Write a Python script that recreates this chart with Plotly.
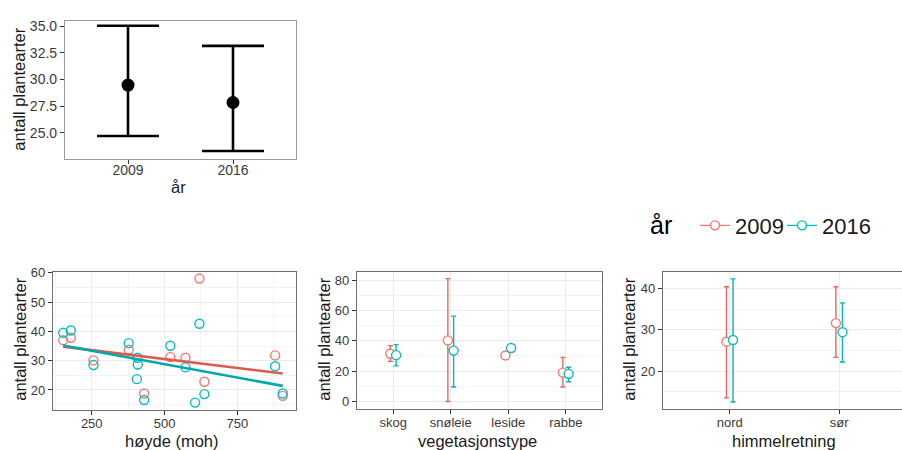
import plotly.graph_objects as go

RED = "#F8766D"
TEAL = "#00BFC4"
RED_LINE = "#DE5A4E"
TEAL_LINE = "#00A8AB"
RED_BAR = "#EA665B"
TEAL_BAR = "#08B3B6"
FONT = "Liberation Sans, Arial, sans-serif"
TICK_COL = "#3A3A3A"

# --- Mean number of plant species per survey year (with CI) ---
years = ["2009", "2016"]
year_mean = [29.48, 27.85]
year_low = [24.7, 23.3]
year_high = [35.05, 33.16]

# --- Species count vs. altitude ---
alt_2009 = [152, 178, 256, 377, 430, 520, 572, 620, 637, 880, 906]
spp_2009 = [37.0, 37.8, 30.1, 33.7, 18.8, 31.2, 31.0, 58.0, 22.8, 31.8, 18.0]
alt_2016 = [152, 178, 256, 377, 407, 408, 405, 430, 520, 572, 605, 620, 637, 880, 906]
spp_2016 = [39.5, 40.3, 28.5, 36.0, 31.0, 28.7, 23.7, 16.6, 35.1, 27.7, 15.7, 42.6, 18.6, 28.1, 18.8]
trend_alt = [152, 906]
trend_2009 = [34.8, 25.6]
trend_2016 = [35.2, 21.4]

# --- Species count by vegetation type ---
veg = ["skog", "snøleie", "leside", "rabbe"]
veg_mean_2009 = [31.4, 40.2, 30.3, 19.0]
veg_low_2009 = [26.4, 0.0, None, 9.5]
veg_high_2009 = [36.8, 80.9, None, 29.0]
veg_mean_2016 = [30.5, 33.5, 35.2, 18.2]
veg_low_2016 = [23.4, 9.5, None, 13.0]
veg_high_2016 = [37.4, 56.2, None, 22.5]

# --- Species count by aspect ---
aspect = ["nord", "sør"]
asp_mean_2009 = [27.1, 31.6]
asp_low_2009 = [13.5, 23.3]
asp_high_2009 = [40.4, 40.4]
asp_mean_2016 = [27.5, 29.4]
asp_low_2016 = [12.5, 22.2]
asp_high_2016 = [42.3, 36.5]

fig = go.Figure()

# top panel: black mean + error bars
fig.add_trace(go.Scatter(
    x=list(range(len(years))), y=year_mean, mode="markers",
    marker=dict(color="black", size=13),
    error_y=dict(type="data", symmetric=False,
                 array=[h - m for h, m in zip(year_high, year_mean)],
                 arrayminus=[m - l for m, l in zip(year_mean, year_low)],
                 color="black", thickness=2.6, width=31),
    xaxis="x", yaxis="y", showlegend=False, hoverinfo="skip"))

# scatter panel
for alt, spp, col in [(alt_2009, spp_2009, RED), (alt_2016, spp_2016, TEAL)]:
    fig.add_trace(go.Scatter(
        x=alt, y=spp, mode="markers",
        marker=dict(symbol="circle-open", size=9, color=col, line=dict(width=1.4)),
        xaxis="x2", yaxis="y2", showlegend=False, hoverinfo="skip"))
for tr, col in [(trend_2009, RED_LINE), (trend_2016, TEAL_LINE)]:
    fig.add_trace(go.Scatter(
        x=trend_alt, y=tr, mode="lines", line=dict(color=col, width=2.6),
        xaxis="x2", yaxis="y2", showlegend=False, hoverinfo="skip"))


def dodge_panel(cats, series, offset, xa, ya):
    # error bars first, then points on top
    for means, lows, highs, col, bar_col, sgn in series:
        idx = [i for i in range(len(cats)) if lows[i] is not None]
        fig.add_trace(go.Scatter(
            x=[i + sgn * offset for i in idx], y=[means[i] for i in idx],
            mode="markers", marker=dict(size=1, color="rgba(0,0,0,0)"),
            error_y=dict(type="data", symmetric=False,
                         array=[highs[i] - means[i] for i in idx],
                         arrayminus=[means[i] - lows[i] for i in idx],
                         color=bar_col, thickness=1.4, width=2.5),
            xaxis=xa, yaxis=ya, showlegend=False, hoverinfo="skip"))
    for means, lows, highs, col, bar_col, sgn in series:
        fig.add_trace(go.Scatter(
            x=[i + sgn * offset for i in range(len(cats))], y=means,
            mode="markers",
            marker=dict(symbol="circle", size=9, color="white",
                        line=dict(color=col, width=1.4)),
            xaxis=xa, yaxis=ya, showlegend=False, hoverinfo="skip"))


dodge_panel(veg, [(veg_mean_2009, veg_low_2009, veg_high_2009, RED, RED_BAR, -1),
                  (veg_mean_2016, veg_low_2016, veg_high_2016, TEAL, TEAL_BAR, 1)],
            0.05, "x3", "y3")
dodge_panel(aspect, [(asp_mean_2009, asp_low_2009, asp_high_2009, RED, RED_BAR, -1),
                     (asp_mean_2016, asp_low_2016, asp_high_2016, TEAL, TEAL_BAR, 1)],
            0.03, "x4", "y4")

# legend entries (one legend box per year, placed side by side)
for name, col, lg in [("2009", RED, "legend"), ("2016", TEAL, "legend2")]:
    fig.add_trace(go.Scatter(
        x=[None], y=[None], mode="lines+markers", name=name, legend=lg,
        line=dict(color=col, width=1.4),
        marker=dict(symbol="circle", size=9, color="white", line=dict(color=col, width=1.4)),
        xaxis="x2", yaxis="y2", showlegend=True))

W, H = 902, 450


def px_x(a, b):
    return [a / W, b / W]


def px_y(top, bottom):
    return [1 - bottom / H, 1 - top / H]


tickfont = dict(family=FONT, size=13, color=TICK_COL)
top_tickfont = dict(family=FONT, size=14, color=TICK_COL)
BOX_TOP = "#9A9A9A"
BOX = "#6E6E6E"
MAJ = "#EBEBEB"
MIN = "#F4F4F4"

common_bottom = dict(showline=True, linecolor=BOX, linewidth=1.2, ticks="outside",
                     ticklen=4, tickcolor="#333333", tickfont=tickfont,
                     zeroline=False, showgrid=True, gridcolor=MAJ, gridwidth=1.1)

legend_common = dict(orientation="h", y=1 - 222 / H, xanchor="left",
                     yanchor="middle", bgcolor="rgba(0,0,0,0)",
                     font=dict(family=FONT, size=22, color="#1A1A1A"),
                     itemwidth=30)

fig.update_layout(
    width=W, height=H,
    margin=dict(l=0, r=0, t=0, b=0),
    paper_bgcolor="white", plot_bgcolor="white",
    font=dict(family=FONT),
    xaxis=dict(domain=px_x(65, 296), anchor="y", range=[-0.6, 1.6],
               tickvals=[0, 1], ticktext=years, showline=True, mirror=True,
               linecolor=BOX_TOP, linewidth=1.2, ticks="outside", ticklen=4,
               tickcolor="#333333", tickfont=top_tickfont, ticklabelstandoff=-6,
               showgrid=False, zeroline=False),
    yaxis=dict(domain=px_y(14, 154), anchor="x", range=[22.58, 35.52],
               tickvals=[25, 27.5, 30, 32.5, 35], tickformat=".1f",
               showline=True, mirror=True, linecolor=BOX_TOP, linewidth=1.2,
               ticks="outside", ticklen=4, tickcolor="#333333",
               tickfont=top_tickfont, showgrid=False, zeroline=False),
    xaxis2=dict(domain=px_x(53, 296), anchor="y2", range=[117, 951.6],
                tickvals=[250, 500, 750], mirror=True, ticklabelstandoff=-2,
                minor=dict(tickvals=[125, 375, 625, 875], showgrid=True,
                           gridcolor=MIN, gridwidth=0.6, ticks=""),
                **common_bottom),
    yaxis2=dict(domain=px_y(269, 409), anchor="x2", range=[13.3, 60.3],
                tickvals=[20, 30, 40, 50, 60], mirror=True,
                minor=dict(tickvals=[15, 25, 35, 45, 55], showgrid=True,
                           gridcolor=MIN, gridwidth=0.6, ticks=""),
                **common_bottom),
    xaxis3=dict(domain=px_x(357, 602), anchor="y3", range=[-0.63, 3.63],
                tickvals=list(range(len(veg))), ticktext=veg, mirror=True,
                ticklabelstandoff=-2, **common_bottom),
    yaxis3=dict(domain=px_y(269, 408), anchor="x3", range=[-4.76, 85.4],
                tickvals=[0, 20, 40, 60, 80], mirror=True,
                minor=dict(tickvals=[10, 30, 50, 70], showgrid=True,
                           gridcolor=MIN, gridwidth=0.6, ticks=""),
                **common_bottom),
    xaxis4=dict(domain=px_x(663, 902), anchor="y4", range=[-0.61, 1.574],
                tickvals=list(range(len(aspect))), ticktext=aspect, mirror=True,
                ticklabelstandoff=-2, **common_bottom),
    yaxis4=dict(domain=px_y(269, 408), anchor="x4", range=[10.9, 44.0],
                tickvals=[20, 30, 40], mirror=False,
                minor=dict(tickvals=[15, 25, 35], showgrid=True,
                           gridcolor=MIN, gridwidth=0.6, ticks=""),
                **common_bottom),
    legend=dict(x=695 / W, **legend_common),
    legend2=dict(x=782 / W, **legend_common),
)

title_font = dict(family=FONT, size=16.5, color="#1A1A1A")


def ann(text, x, y, angle=0, font=title_font):
    fig.add_annotation(text=text, x=x / W, y=1 - y / H, xref="paper", yref="paper",
                       showarrow=False, textangle=angle, font=font,
                       xanchor="center", yanchor="middle")


# legend heading
ann("år", 661, 221, font=dict(family=FONT, size=25, color="black"))

ann("år", 178, 183)
ann("antall plantearter", 19, 84, -90)
ann("høyde (moh)", 172, 441)
ann("antall plantearter", 20, 338, -90)
ann("vegetasjonstype", 477, 441)
ann("antall plantearter", 324, 338, -90)
ann("himmelretning", 784, 441)
ann("antall plantearter", 629, 338, -90)

fig.write_html("out.html")
